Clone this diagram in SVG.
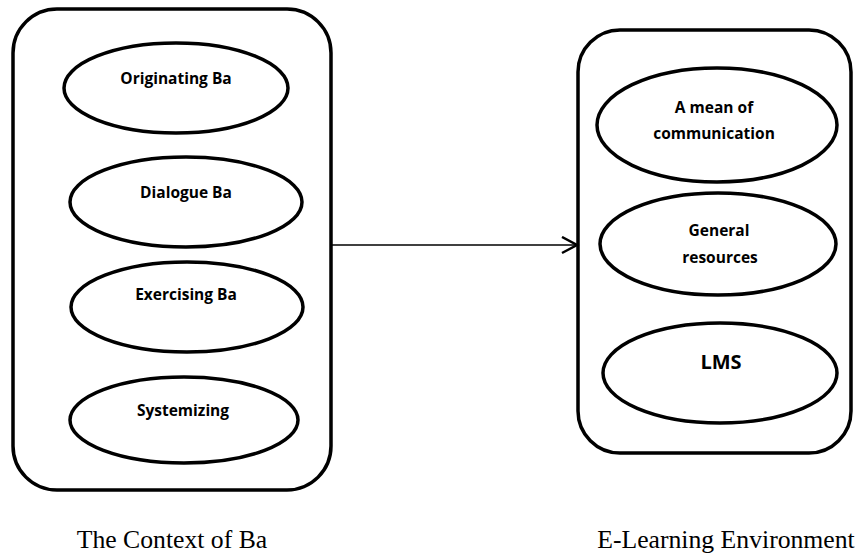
<svg xmlns="http://www.w3.org/2000/svg" width="860" height="557" viewBox="0 0 860 557">
<style>
.box{fill:none;stroke:#000;stroke-width:3.5}
.ell{fill:#fff;stroke:#000;stroke-width:3.5}
.lbl{font-family:"Open Sans","Noto Sans",sans-serif;font-weight:bold;font-size:15.5px;text-anchor:middle;fill:#000}
.big{font-size:20px}
.cap{font-family:"Liberation Serif","Times New Roman",serif;font-size:25.7px;text-anchor:middle;fill:#000}
</style>
<defs>
<marker id="arr" markerWidth="20" markerHeight="20" refX="16" refY="9" orient="auto" markerUnits="userSpaceOnUse">
<path d="M1,1 L16,9 L1,17" fill="none" stroke="#000" stroke-width="2.5"/>
</marker>
</defs>
<rect width="860" height="557" fill="#fff"/>
<g id="connectors">
<line x1="331" y1="245" x2="577" y2="245" stroke="#000" stroke-width="1.5" marker-end="url(#arr)"/>
</g>
<g id="context-of-ba">
<rect class="box" x="13" y="9" width="318" height="481" rx="44" ry="44"/>
<text class="cap" x="172" y="548">The Context of Ba</text>
</g>
<g id="originating-ba">
<ellipse class="ell" cx="176" cy="88" rx="112" ry="45"/>
<text class="lbl" x="176" y="84">Originating Ba</text>
</g>
<g id="dialogue-ba">
<ellipse class="ell" cx="186" cy="202" rx="116" ry="45"/>
<text class="lbl" x="186" y="198">Dialogue Ba</text>
</g>
<g id="exercising-ba">
<ellipse class="ell" cx="187" cy="307" rx="116" ry="45"/>
<text class="lbl" x="186" y="300">Exercising Ba</text>
</g>
<g id="systemizing">
<ellipse class="ell" cx="184" cy="420" rx="114" ry="43"/>
<text class="lbl" x="183" y="416">Systemizing</text>
</g>
<g id="e-learning-environment">
<rect class="box" x="578" y="30" width="273" height="423" rx="42" ry="42"/>
<text class="cap" x="726" y="548">E-Learning Environment</text>
</g>
<g id="mean-of-communication">
<ellipse class="ell" cx="717" cy="125" rx="120" ry="57"/>
<text class="lbl" x="714" y="113">A mean of</text>
<text class="lbl" x="714" y="139">communication</text>
</g>
<g id="general-resources">
<ellipse class="ell" cx="718" cy="244" rx="118" ry="51"/>
<text class="lbl" x="719" y="236">General</text>
<text class="lbl" x="720" y="263">resources</text>
</g>
<g id="lms">
<ellipse class="ell" cx="720" cy="373" rx="117" ry="50"/>
<text class="lbl big" x="721" y="369">LMS</text>
</g>
</svg>
